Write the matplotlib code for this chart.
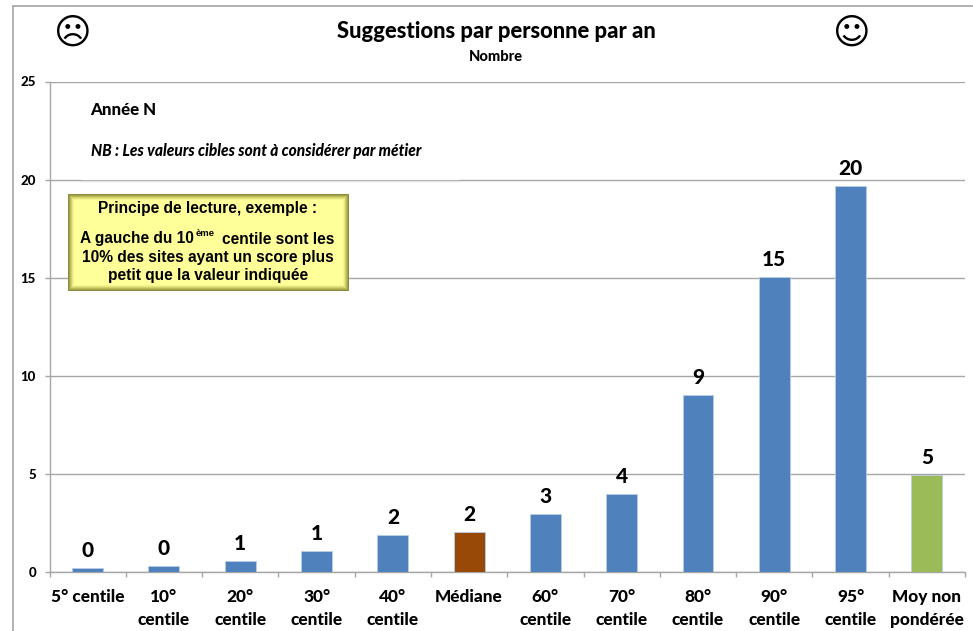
import matplotlib
matplotlib.use("Agg")
import matplotlib.pyplot as plt
from matplotlib.patches import Rectangle

W, H = 973, 631

categories = ["5° centile", "10°\ncentile", "20°\ncentile", "30°\ncentile", "40°\ncentile", "Médiane",
              "60°\ncentile", "70°\ncentile", "80°\ncentile", "90°\ncentile", "95°\ncentile", "Moy non\npondérée"]
values = [0.22, 0.32, 0.55, 1.05, 1.9, 2.05, 2.95, 4.0, 9.0, 15.05, 19.65, 4.95]
value_labels = ["0", "0", "1", "1", "2", "2", "3", "4", "9", "15", "20", "5"]
bar_colors = ["#4f81bd"] * 5 + ["#984807"] + ["#4f81bd"] * 5 + ["#9bbb59"]
y_ticks = [0, 5, 10, 15, 20, 25]

plt.rcParams['font.family'] = ['Lato', 'DejaVu Sans']
GREY = "#a6a6a6"

def fx(px):
    return px / W

def fy(py):
    return 1 - py / H

def label(px, py, s, **kw):
    kw.setdefault("ha", "center")
    kw.setdefault("va", "center")
    kw.setdefault("color", "black")
    kw.setdefault("fontweight", "black")
    return fig.text(fx(px), fy(py), s, **kw)

def frect(x0, y0, x1, y1, color, z):
    fig.add_artist(Rectangle((fx(x0), fy(y1)), fx(x1 - x0), fy(y0) - fy(y1),
                             transform=fig.transFigure, facecolor=color, edgecolor="none", zorder=z))

fig = plt.figure(figsize=(W / 100, H / 100), dpi=100)
ax = fig.add_axes([fx(49.5), fy(572), fx(965 - 49.5), fy(81.5) - fy(572)])

x = range(len(values))
ax.bar(x, values, width=0.405, color=bar_colors, edgecolor="#b9cde5", linewidth=0.6, zorder=3)
for i, (v, t) in enumerate(zip(values, value_labels)):
    ax.annotate(t, (i, v), xytext=(0, 8), textcoords="offset pixels", ha="center", va="bottom",
                fontsize=15, fontweight="black", zorder=4)

ax.set_xlim(-0.5, len(values) - 0.5)
ax.set_ylim(0, 25)
ax.set_yticks(y_ticks)
ax.set_yticklabels([str(t) for t in y_ticks], fontsize=9.5, fontweight="black")
ax.set_xticks([i - 0.5 for i in range(len(values) + 1)])
ax.set_xticklabels([])
ax.tick_params(axis="both", color=GREY, width=1, length=3.3, pad=6.5)
ax.tick_params(axis="x", direction="out")
ax.grid(axis="y", color=GREY, linewidth=1, zorder=0)
ax.set_axisbelow(True)
for side in ["top", "right"]:
    ax.spines[side].set_visible(False)
for side in ["left", "bottom"]:
    ax.spines[side].set_color(GREY)
    ax.spines[side].set_linewidth(1)

# category labels sit on fixed lines, first line aligned across all
for i, c in enumerate(categories):
    px = 49.5 + (i + 0.5) * (965 - 49.5) / len(values)
    for j, line in enumerate(c.split("\n")):
        label(px, 597 + j * 23, line, fontsize=12.4)

# outer chart frame
fig.add_artist(plt.Line2D([fx(13), fx(13)], [0, fy(6)], color=GREY, linewidth=1.2))
fig.add_artist(plt.Line2D([fx(13), 1], [fy(6), fy(6)], color=GREY, linewidth=1.2))

label(496, 32, "Suggestions par personne par an", fontsize=15.8)
label(496, 57, "Nombre", fontsize=10.5)
label(72.5, 33.5, "☹", fontsize=26, family="DejaVu Sans", fontweight="bold")
label(851.5, 33.5, "☺", fontsize=26, family="DejaVu Sans", fontweight="bold")

# text box hiding the 20 gridline
frect(81, 95, 459, 180.3, "white", 2)
fig.add_artist(plt.Line2D([fx(81), fx(459)], [fy(180.5), fy(180.5)], color="#e4e4e4", linewidth=1, zorder=2.5))
label(90, 110, "Année N", fontsize=12.2, ha="left", zorder=5)
label(91, 151, "NB : Les valeurs cibles sont à considérer par métier", fontsize=11.2, ha="left",
      fontstyle="italic", zorder=5)

# yellow reading note with soft bevel
bevel = ["#8c8c3f", "#a3a348", "#baba5a", "#d2d26c", "#e6e67f", "#f5f58e", "#ffff99"]
for k, c in enumerate(bevel):
    frect(68 + k, 194 + k, 349 - k, 291 - k, c, 6 + k * 0.01)
box = dict(family=["Liberation Sans"], fontweight="bold", zorder=7, fontsize=11.2)
label(208, 209, "Principe de lecture, exemple :", **box)
label(80, 239, "A gauche du 10", ha="left", **box)
label(196, 234, "ème", ha="left", family=["Liberation Sans"], fontweight="bold", zorder=7, fontsize=6.8)
label(222, 239, "centile sont les", ha="left", **box)
label(208, 258, "10% des sites ayant un score plus", **box)
label(208, 275, "petit que la valeur indiquée", **box)

fig.savefig("out.png", dpi=100)
